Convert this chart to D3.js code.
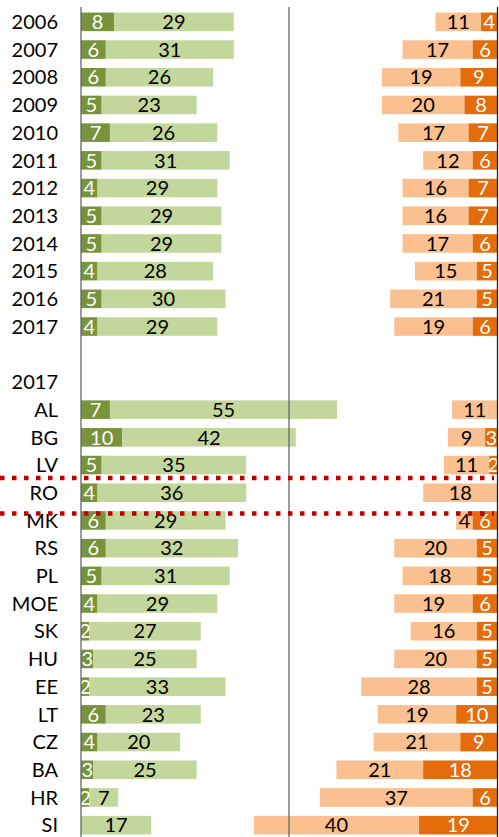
<!DOCTYPE html>
<html>
<head>
<meta charset="utf-8">
<script src="https://cdn.jsdelivr.net/npm/d3@7/dist/d3.min.js"></script>
<style>
  html, body { margin: 0; padding: 0; background: #fff; }
  svg { display: block; font-family: Lato, "Open Sans", sans-serif; }
</style>
</head>
<body>
<svg id="chart" width="499" height="837"></svg>
<script>
// ---- data ----
const yearLabels = ["2006","2007","2008","2009","2010","2011","2012","2013","2014","2015","2016","2017"];
const countryHeader = "2017";
const countryLabels = ["AL","BG","LV","RO","MK","RS","PL","MOE","SK","HU","EE","LT","CZ","BA","HR","SI"];

const yearGreenDark  = [8,6,6,5,7,5,4,5,5,4,5,4];
const yearGreenLight = [29,31,26,23,26,31,29,29,29,28,30,29];
const yearOrangeLight = [11,17,19,20,17,12,16,16,17,15,21,19];
const yearOrangeDark  = [4,6,9,8,7,6,7,7,6,5,5,6];

const ctyGreenDark  = [7,10,5,4,6,6,5,4,2,3,2,6,4,3,2,0];
const ctyGreenLight = [55,42,35,36,29,32,31,29,27,25,33,23,20,25,7,17];
const ctyOrangeLight = [11,9,11,18,4,20,18,19,16,20,28,19,21,21,37,40];
const ctyOrangeDark  = [0,3,2,0,6,5,5,6,5,5,5,10,9,18,6,19];

const highlighted = "RO";

// ---- rows ----
const rows = [];
yearLabels.forEach((l, i) => rows.push({key: "y" + l, label: l, gd: yearGreenDark[i], gl: yearGreenLight[i], ol: yearOrangeLight[i], od: yearOrangeDark[i]}));
rows.push({key: "blank", label: ""});
rows.push({key: "header", label: countryHeader});
countryLabels.forEach((l, i) => rows.push({key: "c" + l, label: l, gd: ctyGreenDark[i], gl: ctyGreenLight[i], ol: ctyOrangeLight[i], od: ctyOrangeDark[i]}));

const colors = {gd: "#77933c", gl: "#c3d69b", ol: "#fac090", od: "#e46c0a"};

const svg = d3.select("#chart");
const leftX = 81, midX = 289, rightX = 497.5;
const unit = 4.13;

const y = d3.scaleBand().domain(rows.map(r => r.key)).range([8, 839]).paddingInner(0.33).paddingOuter(0.165);
const xg = d3.scaleLinear().domain([0, 100]).range([leftX, leftX + 100 * unit]);
const xo = d3.scaleLinear().domain([0, 100]).range([rightX, rightX - 100 * unit]);

const defs = svg.append("defs");
defs.append("clipPath").attr("id", "plotclip").append("rect")
  .attr("x", leftX).attr("y", 0).attr("width", rightX - leftX).attr("height", 837);

const plot = svg.append("g").attr("clip-path", "url(#plotclip)");
const dataRows = rows.filter(r => r.gd !== undefined);

// segments
const segs = [];
dataRows.forEach(r => {
  segs.push({r, x0: xg(0), x1: xg(r.gd), v: r.gd, c: colors.gd, t: "#fff"});
  segs.push({r, x0: xg(r.gd), x1: xg(r.gd + r.gl), v: r.gl, c: colors.gl, t: "#000"});
  segs.push({r, x0: xo(r.od + r.ol), x1: xo(r.od), v: r.ol, c: colors.ol, t: "#000"});
  segs.push({r, x0: xo(r.od), x1: xo(0), v: r.od, c: colors.od, t: "#fff"});
});

plot.selectAll("rect.seg").data(segs.filter(s => s.v > 0)).join("rect")
  .attr("class", "seg")
  .attr("x", s => s.x0).attr("width", s => s.x1 - s.x0)
  .attr("y", s => y(s.r.key)).attr("height", y.bandwidth())
  .attr("fill", s => s.c);

plot.selectAll("text.val").data(segs.filter(s => s.v > 0)).join("text")
  .attr("class", "val")
  .attr("x", s => (s.x0 + s.x1) / 2)
  .attr("y", s => y(s.r.key) + y.bandwidth() / 2)
  .attr("dy", "0.36em")
  .attr("text-anchor", "middle")
  .attr("font-size", 20)
  .attr("fill", s => s.t)
  .text(s => s.v);

// axis lines
[leftX, midX, rightX].forEach((xx, i) => {
  svg.append("line").attr("x1", xx).attr("x2", xx).attr("y1", 7).attr("y2", 837)
    .attr("stroke", i === 2 ? "#222" : "#666").attr("stroke-width", 1.3);
});

// category labels
svg.selectAll("text.cat").data(rows.filter(r => r.label)).join("text")
  .attr("class", "cat")
  .attr("x", 58)
  .attr("y", r => y(r.key) + y.bandwidth() / 2)
  .attr("dy", "0.36em")
  .attr("text-anchor", "end")
  .attr("font-size", 20)
  .attr("fill", "#000")
  .text(r => r.label);

// highlight dotted lines
const hy = y("c" + highlighted);
[hy - 5.5, hy + y.bandwidth() + 11.5].forEach(yy => {
  svg.append("line").attr("x1", 0).attr("x2", 494).attr("y1", yy).attr("y2", yy)
    .attr("stroke", "#c00000").attr("stroke-width", 4.5).attr("stroke-dasharray", "4.5,7.5");
});
</script>
</body>
</html>
